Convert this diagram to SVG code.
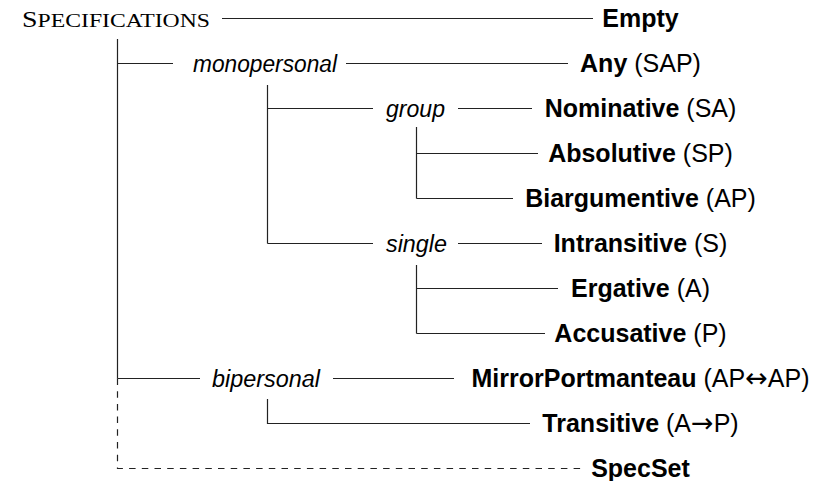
<svg xmlns="http://www.w3.org/2000/svg" width="840" height="481" viewBox="0 0 840 481">
<style>
.c{stroke:#222;stroke-width:1.2;fill:none}
.d{stroke:#222;stroke-width:1.2;fill:none;stroke-dasharray:6.5 6.2}
.lbl{font-family:"Liberation Sans",Arial,sans-serif;font-size:25px;fill:#000;text-anchor:middle}
.b{font-weight:bold}
.ar{font-family:"DejaVu Sans",sans-serif;font-size:27px}
.it{font-family:"Liberation Sans",Arial,sans-serif;font-style:italic;font-size:23.5px;fill:#000}
.root{font-family:"Liberation Serif","Times New Roman",serif;fill:#000}
</style>
<rect width="840" height="481" fill="#fff"/>
<g id="connectors">
<path class="c" d="M222 18.5H593"/>
<path class="c" d="M117.5 39V378.5"/>
<path class="c" d="M117.5 63.5H173M346 63.5H568"/>
<path class="c" d="M267.5 85V243.5"/>
<path class="c" d="M267.5 108.5H373M458 108.5H532"/>
<path class="c" d="M416.5 127V198.5"/>
<path class="c" d="M416.5 153.5H538"/>
<path class="c" d="M416.5 198.5H513"/>
<path class="c" d="M267.5 243.5H373M458 243.5H542"/>
<path class="c" d="M416.5 265V333.5"/>
<path class="c" d="M416.5 288.5H558"/>
<path class="c" d="M416.5 333.5H545"/>
<path class="c" d="M117.5 378.5H200M333 378.5H454"/>
<path class="c" d="M267.5 399V423.5H530"/>
<path class="d" d="M117.5 378.5V468.5H583"/>
</g>
<g id="specifications"><text class="root" x="22" y="27" textLength="188" lengthAdjust="spacingAndGlyphs"><tspan font-size="23">S</tspan><tspan font-size="19.5">PECIFICATIONS</tspan></text></g>
<g id="empty"><text class="lbl" x="640.5" y="27"><tspan class="b">Empty</tspan></text></g>
<g id="monopersonal"><text class="it" x="193" y="72" textLength="144" lengthAdjust="spacingAndGlyphs">monopersonal</text></g>
<g id="any"><text class="lbl" x="640.5" y="72"><tspan class="b">Any</tspan> (SAP)</text></g>
<g id="group"><text class="it" x="386" y="117" textLength="59" lengthAdjust="spacingAndGlyphs">group</text></g>
<g id="nominative"><text class="lbl" x="640.5" y="117"><tspan class="b">Nominative</tspan> (SA)</text></g>
<g id="absolutive"><text class="lbl" x="640.5" y="162"><tspan class="b">Absolutive</tspan> (SP)</text></g>
<g id="biargumentive"><text class="lbl" x="640.5" y="207"><tspan class="b">Biargumentive</tspan> (AP)</text></g>
<g id="single"><text class="it" x="386" y="252" textLength="61" lengthAdjust="spacingAndGlyphs">single</text></g>
<g id="intransitive"><text class="lbl" x="640.5" y="252"><tspan class="b">Intransitive</tspan> (S)</text></g>
<g id="ergative"><text class="lbl" x="640.5" y="297"><tspan class="b">Ergative</tspan> (A)</text></g>
<g id="accusative"><text class="lbl" x="640.5" y="342"><tspan class="b">Accusative</tspan> (P)</text></g>
<g id="bipersonal"><text class="it" x="212" y="387" textLength="108" lengthAdjust="spacingAndGlyphs">bipersonal</text></g>
<g id="mirrorportmanteau"><text class="lbl" x="640.5" y="387"><tspan class="b">MirrorPortmanteau</tspan> (AP<tspan class="ar">↔</tspan>AP)</text></g>
<g id="transitive"><text class="lbl" x="640.5" y="432"><tspan class="b">Transitive</tspan> (A<tspan class="ar">→</tspan>P)</text></g>
<g id="specset"><text class="lbl" x="640.5" y="477"><tspan class="b">SpecSet</tspan></text></g>
</svg>
